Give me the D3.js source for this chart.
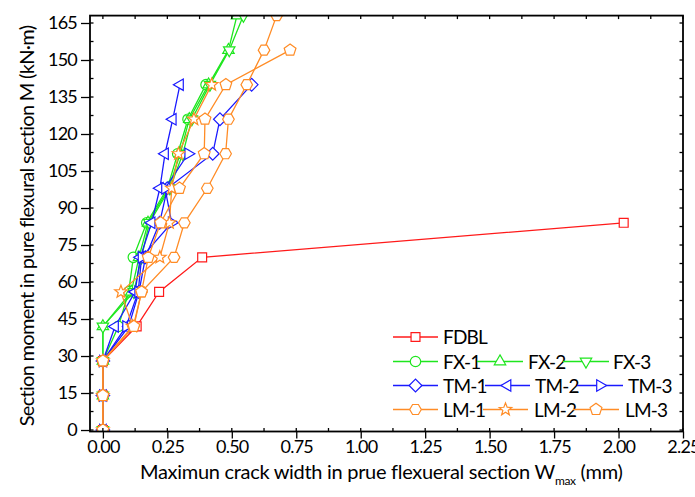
<!DOCTYPE html>
<html>
<head>
<meta charset="utf-8">
<script src="https://cdn.jsdelivr.net/npm/d3@7"></script>
<style>
  body { margin: 0; background: #fff; }
  svg { display: block; }
  text { font-family: Lato, "Open Sans", sans-serif; fill: #000; }
</style>
</head>
<body>
<div id="chart"></div>
<script>
// moment levels (kN·m) shared by all specimens
const moments = [0, 14, 28, 42, 56, 70, 84, 98, 112, 126, 140, 154, 168];

// crack widths (mm) per specimen, one per moment level
const fdbl = [0, 0, 0, 0.131, 0.218, 0.385, 2.02];
const fx1 = [0, 0, 0, 0.06, 0.10, 0.118, 0.17, 0.25, 0.29, 0.33, 0.40];
const fx2 = [0, 0, 0, 0, 0.11, 0.14, 0.175, 0.255, 0.30, 0.335, 0.41, 0.487, 0.52];
const fx3 = [0, 0, 0, 0, 0.12, 0.15, 0.18, 0.26, 0.31, 0.345, 0.415, 0.49, 0.545];
const tm1 = [0, 0, 0, 0.10, 0.14, 0.165, 0.22, 0.25, 0.426, 0.454, 0.577];
const tm2 = [0, 0, 0, 0.047, 0.125, 0.145, 0.189, 0.221, 0.241, 0.271, 0.299];
const tm3 = [0, 0, 0, 0.09, 0.137, 0.15, 0.267, 0.241, 0.331];
const lm1 = [0, 0, 0, 0.118, 0.15, 0.276, 0.316, 0.405, 0.476, 0.487, 0.558, 0.625, 0.674];
const lm2 = [0, 0, 0, 0.115, 0.07, 0.221, 0.258, 0.267, 0.293, 0.353, 0.422];
const lm3 = [0, 0, 0, 0.12, 0.15, 0.176, 0.224, 0.297, 0.393, 0.396, 0.477, 0.726];

const xTicks = [0, 0.25, 0.5, 0.75, 1, 1.25, 1.5, 1.75, 2, 2.25];
const yTicks = [0, 15, 30, 45, 60, 75, 90, 105, 120, 135, 150, 165];

const RED = "#ff1a1a", GREEN = "#1ee61e", BLUE = "#1a1aff", ORANGE = "#ff8c26";

const series = [
  { name: "FDBL", w: fdbl, color: RED, sym: "square" },
  { name: "FX-1", w: fx1, color: GREEN, sym: "circle" },
  { name: "FX-2", w: fx2, color: GREEN, sym: "tri-up" },
  { name: "FX-3", w: fx3, color: GREEN, sym: "tri-down" },
  { name: "TM-1", w: tm1, color: BLUE, sym: "diamond" },
  { name: "TM-2", w: tm2, color: BLUE, sym: "tri-left" },
  { name: "TM-3", w: tm3, color: BLUE, sym: "tri-right" },
  { name: "LM-1", w: lm1, color: ORANGE, sym: "hexagon" },
  { name: "LM-2", w: lm2, color: ORANGE, sym: "star" },
  { name: "LM-3", w: lm3, color: ORANGE, sym: "pentagon" },
];

const W = 695, H = 497;
const M = { l: 90, r: 12, t: 15.6, b: 65.5 };

const svg = d3.select("#chart").append("svg").attr("width", W).attr("height", H);

const x = d3.scaleLinear().domain([-0.05, 2.25]).range([M.l, W - M.r]);
const y = d3.scaleLinear().domain([-0.6, 168]).range([H - M.b, M.t]);

// polygon path centred on 0,0
function poly(n, r, rot) {
  const p = d3.path();
  for (let i = 0; i < n; i++) {
    const a = rot + (i * 2 * Math.PI) / n;
    const px = r * Math.cos(a), py = r * Math.sin(a);
    i ? p.lineTo(px, py) : p.moveTo(px, py);
  }
  p.closePath();
  return p.toString();
}
function starPath(ro, ri) {
  const p = d3.path();
  for (let i = 0; i < 10; i++) {
    const a = -Math.PI / 2 + (i * Math.PI) / 5;
    const r = i % 2 ? ri : ro;
    i ? p.lineTo(r * Math.cos(a), r * Math.sin(a)) : p.moveTo(r * Math.cos(a), r * Math.sin(a));
  }
  p.closePath();
  return p.toString();
}
function symbolPath(s) {
  switch (s) {
    case "square": return poly(4, 6.3, Math.PI / 4);
    case "circle": return d3.symbol(d3.symbolCircle, 85)();
    case "tri-up": return poly(3, 6.6, -Math.PI / 2);
    case "tri-down": return poly(3, 6.6, Math.PI / 2);
    case "tri-left": return poly(3, 6.6, Math.PI);
    case "tri-right": return poly(3, 6.6, 0);
    case "diamond": return poly(4, 6.4, 0);
    case "hexagon": return poly(6, 5.8, 0);
    case "star": return starPath(6.6, 2.8);
    case "pentagon": return poly(5, 6.2, -Math.PI / 2);
  }
}

// clip to plot frame
svg.append("clipPath").attr("id", "plotclip")
  .append("rect")
  .attr("x", M.l).attr("y", M.t)
  .attr("width", W - M.r - M.l).attr("height", H - M.b - M.t);

const plot = svg.append("g").attr("clip-path", "url(#plotclip)");
const line = d3.line().x((d) => x(d[0])).y((d) => y(d[1]));

series.forEach((s) => {
  const pts = s.w.map((v, i) => [v, moments[i]]);
  const g = plot.append("g");
  g.append("path")
    .attr("d", line(pts))
    .attr("fill", "none")
    .attr("stroke", s.color)
    .attr("stroke-width", 1.3);
  g.selectAll("path.mk")
    .data(pts)
    .enter()
    .append("path")
    .attr("class", "mk")
    .attr("d", symbolPath(s.sym))
    .attr("transform", (d) => `translate(${x(d[0])},${y(d[1])})`)
    .attr("fill", "#fff")
    .attr("stroke", s.color)
    .attr("stroke-width", 1.2);
});

// axes
const axB = svg.append("g").attr("transform", `translate(0,${H - M.b})`)
  .call(d3.axisBottom(x).tickValues(xTicks).tickSize(7).tickPadding(2).tickFormat(d3.format(".2f")));
const axL = svg.append("g").attr("transform", `translate(${M.l},0)`)
  .call(d3.axisLeft(y).tickValues(yTicks).tickSize(9).tickPadding(4));
[axB, axL].forEach((a) => {
  a.select(".domain").remove();
  a.selectAll("line").attr("stroke", "#000").attr("stroke-width", 1.3);
  a.selectAll("text").attr("font-size", 18).style("letter-spacing", "-0.8px");
});

const xMinor = d3.range(0, 2.26, 0.125);
const yMinor = d3.range(0, 168, 7.5);
const frame = svg.append("g").attr("stroke", "#000").attr("stroke-width", 1.3);
frame.selectAll(".xb").data(xMinor).enter().append("line")
  .attr("x1", (d) => x(d)).attr("x2", (d) => x(d))
  .attr("y1", H - M.b).attr("y2", H - M.b - 3.5);
frame.selectAll(".xt").data(xMinor).enter().append("line")
  .attr("x1", (d) => x(d)).attr("x2", (d) => x(d))
  .attr("y1", M.t).attr("y2", M.t + 3.5);
frame.selectAll(".yl").data(yMinor).enter().append("line")
  .attr("y1", (d) => y(d)).attr("y2", (d) => y(d))
  .attr("x1", M.l).attr("x2", M.l + 3.5);
frame.selectAll(".yr").data(yMinor).enter().append("line")
  .attr("y1", (d) => y(d)).attr("y2", (d) => y(d))
  .attr("x1", W - M.r).attr("x2", W - M.r - 3.5);
svg.append("rect")
  .attr("x", M.l).attr("y", M.t)
  .attr("width", W - M.r - M.l).attr("height", H - M.b - M.t)
  .attr("fill", "none").attr("stroke", "#000").attr("stroke-width", 1.8);

// axis titles
const xt = svg.append("text")
  .attr("x", 140).attr("y", 479)
  .attr("font-size", 20).style("letter-spacing", "-0.3px");
xt.append("tspan").text("Maximun crack width in prue flexueral section W");
xt.append("tspan").attr("font-size", 12).attr("dy", 6).text("max");
xt.append("tspan").attr("dy", -6).text(" (mm)");

svg.append("text")
  .attr("transform", "translate(34,226) rotate(-90)")
  .attr("text-anchor", "middle")
  .attr("font-size", 20).style("letter-spacing", "-0.7px")
  .text("Section moment in pure flexural section M (kN·m)");

// legend
const legendRows = [
  { y: 337, items: [{ s: 0, x0: 393, x1: 438, tx: 443 }] },
  { y: 361.5, items: [{ s: 1, x0: 393, x1: 438, tx: 443 }, { s: 2, x0: 477, x1: 523, tx: 528 }, { s: 3, x0: 563, x1: 609, tx: 613 }] },
  { y: 385.5, items: [{ s: 4, x0: 393, x1: 438, tx: 443 }, { s: 5, x0: 485, x1: 530, tx: 535 }, { s: 6, x0: 577, x1: 623, tx: 628 }] },
  { y: 409.5, items: [{ s: 7, x0: 393, x1: 438, tx: 443 }, { s: 8, x0: 483, x1: 528, tx: 534 }, { s: 9, x0: 573, x1: 619, tx: 625 }] },
];
const lg = svg.append("g");
legendRows.forEach((row) => {
  row.items.forEach((it) => {
    const s = series[it.s];
    lg.append("line")
      .attr("x1", it.x0).attr("x2", it.x1).attr("y1", row.y).attr("y2", row.y)
      .attr("stroke", s.color).attr("stroke-width", 1.3);
    lg.append("path")
      .attr("d", symbolPath(s.sym))
      .attr("transform", `translate(${(it.x0 + it.x1) / 2},${row.y})`)
      .attr("fill", "#fff").attr("stroke", s.color).attr("stroke-width", 1.2);
    lg.append("text")
      .attr("x", it.tx).attr("y", row.y + 7)
      .attr("font-size", 19).style("letter-spacing", "-0.8px")
      .text(s.name);
  });
});
</script>
</body>
</html>
